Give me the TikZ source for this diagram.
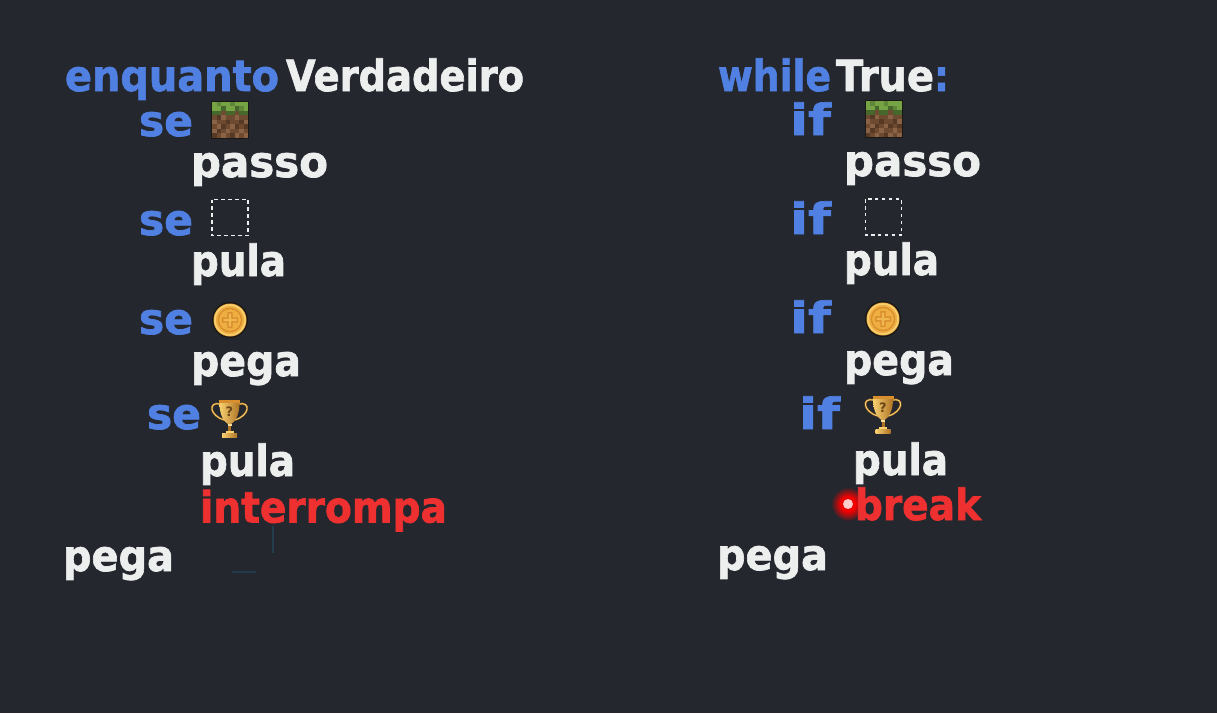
\documentclass[tikz,border=0pt]{standalone}
\usepackage{fontspec}
\usepackage{graphicx}
\setmainfont{DejaVu Sans}
\newfontfamily\codefont[BoldFeatures={FakeBold=1.6}]{DejaVu Sans}
\definecolor{bgc}{HTML}{24272E}
\definecolor{kwblue}{HTML}{5080E2}
\definecolor{plainw}{HTML}{EDEEEE}
\definecolor{redw}{HTML}{EE3030}
\definecolor{dirtA}{HTML}{6E4A30}
\definecolor{dirtB}{HTML}{8A6246}
\definecolor{dirtC}{HTML}{573A26}
\definecolor{grassA}{HTML}{76A445}
\definecolor{grassB}{HTML}{47682C}
\definecolor{goldA}{HTML}{EFAE42}
\definecolor{goldB}{HTML}{D98F2E}
\definecolor{goldC}{HTML}{F8D070}
\definecolor{darkline}{HTML}{1A1814}
\newcommand{\fitw}[2]{\resizebox{#1pt}{\height}{\fontsize{43}{43}\bfseries\codefont #2}}
\pgfdeclareradialshading{pointerglow}{\pgfpointorigin}{
  color(0bp)=(red!95!black);
  color(11bp)=(red!95!black);
  color(17bp)=(red!55!bgc);
  color(25bp)=(bgc);
  color(50bp)=(bgc)}
\tikzset{
  px/.style={x=1pt,y=-1pt},
  code/.style={anchor=base west,inner sep=0pt,outer sep=0pt},
  kw/.style={code,text=kwblue},
  plain/.style={code,text=plainw},
  red text/.style={code,text=redw},
  pics/dirt/.style={code={
    \fill[darkline] (-19,-19) rectangle (19,19);
    \fill[dirtA] (-18,-18) rectangle (18,18);
    \foreach \c/\r in {0/4,2/3,5/3,7/4,1/5,4/5,6/6,0/6,3/6,2/7,5/7,7/7}{
      \fill[dirtB] (-18+4.5*\c,-18+4.5*\r) rectangle ++(4.5,4.5);}
    \foreach \c/\r in {1/3,3/4,6/4,2/5,7/5,1/6,4/7,0/7,5/5}{
      \fill[dirtC] (-18+4.5*\c,-18+4.5*\r) rectangle ++(4.5,4.5);}
    \fill[grassA] (-18,-18) rectangle (18,-9);
    \foreach \c/\r in {1/0,4/0,6/1,2/1}{
      \fill[grassB!50!grassA] (-18+4.5*\c,-18+4.5*\r) rectangle ++(4.5,4.5);}
    \foreach \c in {0,1,3,4,6,7}{
      \fill[grassB] (-18+4.5*\c,-9) rectangle ++(4.5,4.5);}
    \foreach \c in {2,5}{
      \fill[grassB] (-18+4.5*\c,-13.5) rectangle ++(4.5,4.5);}
  }},
  pics/blank/.style={code={
    \draw[plainw,line width=1.5pt,dash pattern=on 3.6pt off 3.3pt] (-18,-18) rectangle (18,18);
  }},
  pics/coin/.style={code={
    \fill[darkline] (0,0) circle (18);
    \fill[goldA] (0,0) circle (16.5);
    \draw[goldC,line width=1.5pt] (0,0) circle (15);
    \draw[goldB,line width=1.6pt] (0,0) circle (11.5);
    \fill[goldA] (0,0) circle (10.7);
    \fill[goldB] (-2.6,-8) rectangle (2.6,8) (-8,-2.6) rectangle (8,2.6);
    \fill[goldA!70!goldC] (-1.2,-6.5) rectangle (1.2,6.5) (-6.5,-1.2) rectangle (6.5,1.2);
  }},
  pics/trophy/.style={code={
    \draw[goldB!70!black,line width=2pt] (-9,-15) .. controls (-22,-18) and (-20,-3) .. (-5,1);
    \draw[goldB!70!black,line width=2pt] (9,-15) .. controls (22,-18) and (20,-3) .. (5,1);
    \draw[goldC,line width=.9pt] (-9,-15) .. controls (-22,-18) and (-20,-3) .. (-5,1);
    \draw[goldC,line width=.9pt] (9,-15) .. controls (22,-18) and (20,-3) .. (5,1);
    \fill[goldB] (-10.5,-19) rectangle (10.5,-15.5);
    \path[left color=goldC,right color=goldB!80!black] (-10,-16) -- (10,-16) .. controls (10,-3) and (5,3) .. (1.5,5) -- (-1.5,5) .. controls (-5,3) and (-10,-3) .. (-10,-16) -- cycle;
    \fill[goldC!70!white] (-2,5) rectangle (2,7);
    \fill[goldB!80!black] (-1.5,7) rectangle (1.5,12);
    \fill[goldC] (-4,12) rectangle (4,14);
    \path[left color=goldC,right color=goldB!80!black] (-7.5,14) rectangle (7.5,18.5);
    \node[inner sep=0pt,text=goldB!50!black,font=\fontsize{13}{13}\bfseries] (q) at (0,-7) {?};
  }},
}
\begin{document}
\begin{tikzpicture}[px]
\useasboundingbox (0,0) rectangle (1217,713);
\fill[bgc] (0,0) rectangle (1217,713);
% faint artefacts
\draw[color=kwblue!25!bgc!70!teal,line width=2pt,opacity=.55] (273,526) -- (273,553);
\draw[color=kwblue!25!bgc!70!teal,line width=2pt,opacity=.45] (232,572) -- (256,572);
% left column
\node[kw] (enq) at (65,91) {\fitw{214}{enquanto}};
\node[plain] (verd) at (286,91) {\fitw{238}{Verdadeiro}};
\node[kw] (se1) at (139,136) {\fitw{54}{se}};
\pic at (230,119.5) {dirt};
\node[plain] (passoL) at (191,177) {\fitw{137}{passo}};
\node[kw] (se2) at (139,235) {\fitw{54}{se}};
\pic at (230,217.5) {blank};
\node[plain] (pulaL) at (191,276) {\fitw{95}{pula}};
\node[kw] (se3) at (139,334) {\fitw{54}{se}};
\pic at (230,320) {coin};
\node[plain] (pegaL) at (191,376) {\fitw{110}{pega}};
\node[kw] (se4) at (147,429) {\fitw{54}{se}};
\pic at (229.5,419) {trophy};
\node[plain] (pulaLb) at (200,476) {\fitw{95}{pula}};
\node[red text] (inter) at (200,522.5) {\fitw{247}{interrompa}};
\node[plain] (pegaLc) at (63,571) {\fitw{111}{pega}};
% right column
\node[kw] (while) at (718,91) {\fitw{113}{while}};
\node[plain] (true) at (836,91) {\fitw{98}{True}};
\node[kw] (colon) at (934,91) {\fitw{15}{:}};
\node[kw] (if1) at (790,135) {\fitw{41}{if}};
\pic at (883.5,119) {dirt};
\node[plain] (passoR) at (844,176) {\fitw{137}{passo}};
\node[kw] (if2) at (790,234) {\fitw{41}{if}};
\pic at (883.5,217) {blank};
\node[plain] (pulaR) at (844,275) {\fitw{95}{pula}};
\node[kw] (if3) at (790,333) {\fitw{41}{if}};
\pic at (883,319) {coin};
\node[plain] (pegaR) at (844,375) {\fitw{110}{pega}};
\node[kw] (if4) at (799,429) {\fitw{41}{if}};
\pic at (883,415) {trophy};
\node[plain] (pulaRb) at (853,475) {\fitw{95}{pula}};
% pointer dot
\path[shading=pointerglow] (848,504) circle (17);
\fill[white!80!red] (848,504) circle (5);
\node[red text] (break) at (855,520) {\fitw{126}{break}};
\node[plain] (pegaRc) at (717,570) {\fitw{111}{pega}};
\end{tikzpicture}
\end{document}
